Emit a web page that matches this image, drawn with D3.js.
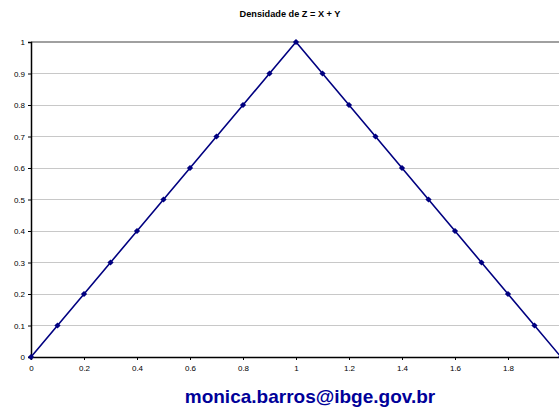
<!DOCTYPE html>
<html><head><meta charset="utf-8">
<script src="https://cdn.jsdelivr.net/npm/d3@7"></script>
<style>body{margin:0;background:#fff}svg{display:block;overflow:hidden}</style>
</head><body><svg id="c" width="559" height="414"></svg>
<script>
const zValues = [0,0.1,0.2,0.3,0.4,0.5,0.6,0.7,0.8,0.9,1.0,1.1,1.2,1.3,1.4,1.5,1.6,1.7,1.8,1.9,2.0];
const density = [0,0.1,0.2,0.3,0.4,0.5,0.6,0.7,0.8,0.9,1.0,0.9,0.8,0.7,0.6,0.5,0.4,0.3,0.2,0.1,0];
const xTicks = [0,0.2,0.4,0.6,0.8,1,1.2,1.4,1.6,1.8];
const yTicks = [0,0.1,0.2,0.3,0.4,0.5,0.6,0.7,0.8,0.9,1];
const title = "Densidade de Z = X + Y";
const footer = "monica.barros@ibge.gov.br";

const svg = d3.select("#c");
const x = d3.scaleLinear().domain([0,2]).range([31,561]);
const y = d3.scaleLinear().domain([0,1]).range([357,42]);
const font = "Arial, 'Liberation Sans', sans-serif";

// gridlines
svg.append("g").selectAll("line").data(yTicks.filter(d=>d>0)).join("line")
  .attr("x1",x(0)).attr("x2",559).attr("y1",d=>y(d)).attr("y2",d=>y(d))
  .attr("stroke",d=>d===1?"#a0a0a0":"#c8c8c8").attr("stroke-width",d=>d===1?2:1)
  .attr("shape-rendering","crispEdges");

// y axis
const ya = svg.append("g").attr("transform",`translate(${x(0)},0)`)
  .call(d3.axisLeft(y).tickValues(yTicks).tickSize(3).tickPadding(3).tickFormat(d3.format("~g")));
ya.select(".domain").attr("stroke","#000").attr("stroke-width",1.5);
ya.selectAll("text").attr("font-family",font).attr("font-size",8).attr("fill","#000");

// x axis
const xa = svg.append("g").attr("transform",`translate(0,${y(0)})`)
  .call(d3.axisBottom(x).tickValues(xTicks).tickSize(3).tickPadding(5).tickFormat(d3.format("~g")));
xa.select(".domain").attr("stroke","#000").attr("stroke-width",1.5);
xa.selectAll("text").attr("font-family",font).attr("font-size",8).attr("fill","#000");

// line
const pts = zValues.map((z,i)=>[z,density[i]]);
svg.append("path").datum(pts)
  .attr("d",d3.line().x(d=>x(d[0])).y(d=>y(d[1])))
  .attr("fill","none").attr("stroke","#000080").attr("stroke-width",1.6);

svg.append("g").selectAll("rect").data(pts).join("rect")
  .attr("x",-2.2).attr("y",-2.2).attr("width",4.4).attr("height",4.4)
  .attr("transform",d=>`translate(${x(d[0])},${y(d[1])}) rotate(45)`)
  .attr("fill","#000080");

svg.append("text").attr("x",290).attr("y",17).attr("text-anchor","middle")
  .attr("font-family",font).attr("font-size",9.2).attr("font-weight","bold").text(title);

svg.append("text").attr("x",310).attr("y",403).attr("text-anchor","middle")
  .attr("font-family",font).attr("font-size",19).attr("font-weight","bold")
  .attr("fill","#000099").text(footer);
</script></body></html>
